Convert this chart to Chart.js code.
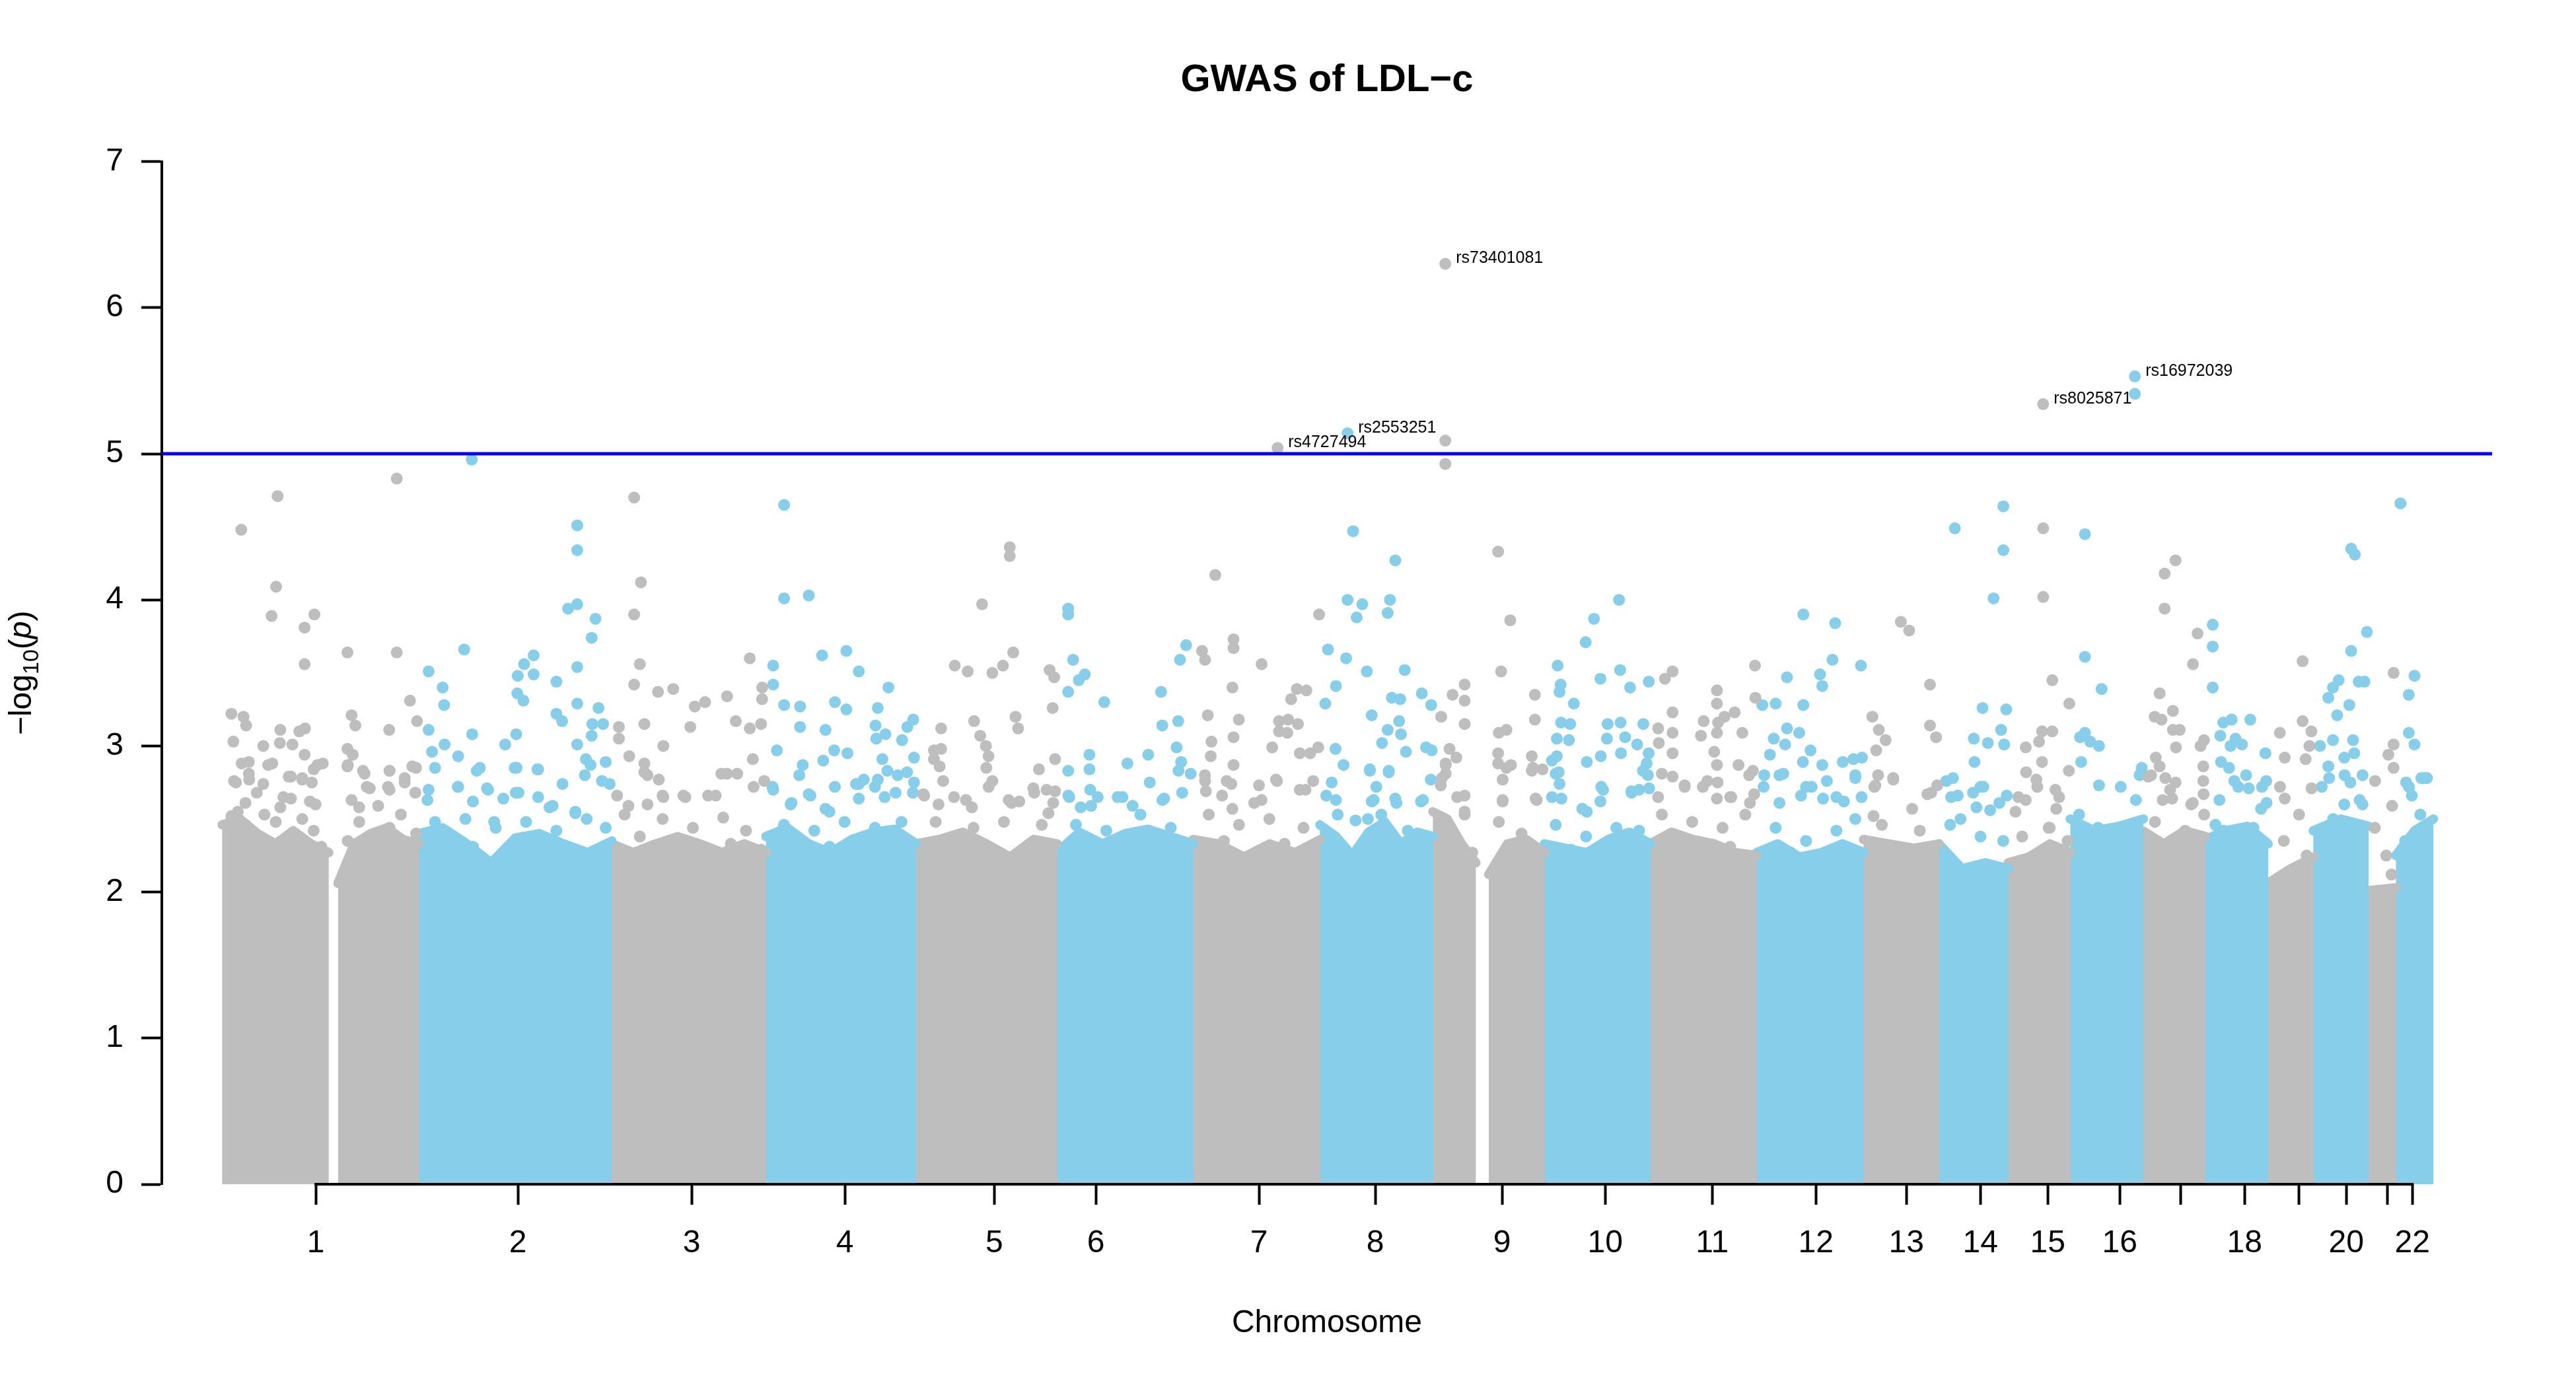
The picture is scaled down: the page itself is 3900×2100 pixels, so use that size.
<!DOCTYPE html>
<html>
<head>
<meta charset="utf-8">
<title>GWAS of LDL-c</title>
<script src="https://cdn.jsdelivr.net/npm/chart.js@4.4.1/dist/chart.umd.min.js"></script>
<style>
  html, body { margin: 0; padding: 0; background: #fff; }
  #wrap { width: 3900px; height: 2100px; }
</style>
</head>
<body>
<div id="wrap"><canvas id="manhattan" width="3900" height="2100"></canvas></div>
<script>
const FONT = '"Liberation Sans", Arial, Helvetica, sans-serif';
const GREY = '#BEBEBE';
const SKYBLUE = '#87CEEB';

// cumulative genome position (Mb) where each chromosome ends
const chromEnd = [248, 491, 686, 875, 1053, 1225, 1385, 1527.5, 1668.3, 1801.7, 1935.8,
                  2070.8, 2165.8, 2253.3, 2331.7, 2423.3, 2501.7, 2580.8, 2638.3, 2707.5, 2742.5, 2790];
// axis ticks (median SNP position per chromosome) and their labels
const tickPos = [118.3, 373.3, 592.5, 785.8, 974.2, 1102.5, 1308.3, 1455, 1615, 1745, 1880,
                 2010.8, 2125, 2218.3, 2303.3, 2394.2, 2470.8, 2551.7, 2620, 2680, 2731.7, 2763.3];
const tickLabels = ['1','2','3','4','5','6','7','8','9','10','11','12','13','14','15','16','','18','','20','','22'];

// dense body of SNPs: segments and the height of their near-solid top
const bandStart = [0, 146.2, 248, 491, 686, 875, 1053, 1225, 1385, 1527.5, 1598, 1668.3, 1801.7,
                   1935.8, 2070.8, 2165.8, 2253.3, 2331.7, 2423.3, 2501.7, 2580.8, 2638.3, 2707.5, 2742.5];
const bandEnd   = [134.7, 248, 491, 686, 875, 1053, 1225, 1385, 1527.5, 1582, 1668.3, 1801.7, 1935.8,
                   2070.8, 2165.8, 2253.3, 2331.7, 2423.3, 2501.7, 2580.8, 2638.3, 2707.5, 2742.5, 2790];
const bandChrom = [1, 1, 2, 3, 4, 5, 6, 7, 8, 9, 9, 10, 11, 12, 13, 14, 15, 16, 17, 18, 19, 20, 21, 22];
const bandTop = [
  [2.46, 2.5, 2.4, 2.33, 2.42, 2.33, 2.27], [2.06, 2.33, 2.4, 2.44, 2.36, 2.33],
  [2.4, 2.44, 2.33, 2.2, 2.37, 2.4, 2.33, 2.27, 2.35], [2.33, 2.27, 2.33, 2.38, 2.33, 2.27, 2.33, 2.27],
  [2.38, 2.44, 2.33, 2.27, 2.36, 2.41, 2.43, 2.33], [2.33, 2.36, 2.41, 2.33, 2.24, 2.36, 2.33],
  [2.27, 2.41, 2.33, 2.4, 2.43, 2.38, 2.33], [2.36, 2.33, 2.24, 2.33, 2.27, 2.36],
  [2.46, 2.38, 2.25, 2.41, 2.48, 2.33, 2.41, 2.38], [2.55, 2.5, 2.33, 2.2], [2.12, 2.33, 2.36, 2.27],
  [2.33, 2.3, 2.27, 2.36, 2.41, 2.33], [2.33, 2.41, 2.36, 2.33, 2.27, 2.25],
  [2.27, 2.33, 2.24, 2.27, 2.33, 2.27], [2.36, 2.33, 2.3, 2.33], [2.33, 2.16, 2.2, 2.16],
  [2.2, 2.24, 2.33, 2.27], [2.5, 2.42, 2.45, 2.5], [2.42, 2.33, 2.42, 2.38],
  [2.36, 2.42, 2.45, 2.33], [2.06, 2.16, 2.24], [2.42, 2.5, 2.45], [2.01, 2.03], [2.25, 2.42, 2.5]
];

// sparse SNPs above the dense body: [position Mb, -log10(p)]
const snpHits = [
  // chr1
  [24.2,4.48],[70.1,4.71],[220.4,4.83],[68.2,4.09],[62.5,3.89],[116.5,3.90],[104.1,3.81],[104.1,3.56],
  [158.2,3.64],[220.4,3.64],[11.8,3.22],[27,3.20],[30.4,3.14],[14.2,3.03],[52,3.00],[73.5,3.11],[73,3.02],
  [88.8,3.01],[97.4,3.10],[104.6,3.12],[104.1,2.94],[33.8,2.89],[63.4,2.88],[33.8,2.81],[17.5,2.75],[84,2.79],
  [101.2,2.78],[113.2,2.75],[115.6,2.84],[127.1,2.88],[52,2.74],[29.5,2.61],[86.9,2.64],[118,2.60],[73.5,2.58],
  [163.4,3.21],[168.2,3.14],[158.2,2.98],[164.9,2.94],[158.2,2.86],[210.8,3.11],[237.1,3.31],[246,3.17],
  [179.7,2.81],[211.3,2.83],[186.4,2.71],[244.8,2.85],[230.4,2.75],[243.8,2.68],[209.4,2.72],[173,2.58],[11.8,2.52],
  // chr2
  [315,4.96],[448.1,4.51],[448.1,4.34],[305.5,3.66],[436.6,3.94],[448.1,3.97],[471.1,3.87],[466.3,3.74],
  [393.1,3.62],[381.1,3.56],[373,3.48],[393.1,3.49],[260.6,3.51],[278.3,3.40],[280.2,3.28],[372.5,3.36],
  [380.2,3.31],[421.8,3.44],[448.1,3.54],[448.1,3.29],[474.9,3.26],[421.8,3.22],[429,3.17],[467.2,3.15],
  [480.7,3.15],[466.3,3.07],[448.1,3.01],[260.6,3.11],[315.6,3.08],[280.7,3.01],[264.9,2.96],[297.9,2.93],
  [371.1,3.08],[357.2,3.01],[371.6,2.85],[398.8,2.84],[325.2,2.85],[429.5,2.74],[459.1,2.91],[484,2.89],
  [457.7,2.80],[260.6,2.70],[297.9,2.72],[334.2,2.71],[316.5,2.62],[398.8,2.65],[354.8,2.64],[370.6,2.68],
  [445.7,2.54],[489,2.74],[343.3,2.48],[413.2,2.58],
  // chr3
  [519.9,4.70],[528.5,4.12],[519.9,3.90],[527.1,3.56],[519.9,3.42],[500.7,3.13],[500.7,3.05],[513.7,2.93],
  [532.8,3.15],[550,3.37],[569.2,3.39],[556.7,3.00],[532.8,2.88],[532.8,2.82],[551,2.77],[590.7,3.13],
  [596.4,3.27],[609.4,3.30],[637.1,3.34],[648.1,3.17],[665.8,3.60],[665.8,3.12],[669.6,2.91],[629.9,2.81],
  [650,2.81],[556.7,2.65],[582.1,2.66],[622.8,2.66],[536.7,2.60],[512.7,2.59],[681.4,3.40],[681.4,3.32],
  [680,3.15],[684,2.76],
  // chr4
  [709.1,4.65],[709.1,4.01],[740.2,4.03],[695.3,3.55],[695.3,3.42],[757,3.62],[787.6,3.65],[803.4,3.51],
  [840.7,3.40],[709.1,3.28],[729.2,3.27],[729.2,3.13],[761.3,3.11],[773.2,3.30],[787.6,3.25],[827.3,3.26],
  [824.4,3.14],[836.9,3.08],[825.4,3.05],[864.6,3.13],[872,3.18],[857.9,3.04],[700,2.97],[772.3,2.97],
  [789,2.95],[758.4,2.90],[732.6,2.87],[833.1,2.91],[839.3,2.83],[873,2.92],[864.2,2.82],[728.3,2.80],
  [827.3,2.77],[695.3,2.70],[740.2,2.67],[773.2,2.72],[803.4,2.74],[809.6,2.77],[803.4,2.64],[849.8,2.68],
  [835.9,2.65],[873,2.75],[717.3,2.60],[761.3,2.57],
  // chr5
  [993.8,4.36],[993.8,4.30],[958.9,3.97],[924.4,3.55],[940.7,3.51],[971.8,3.50],[985.2,3.55],[998.1,3.64],
  [1044.1,3.52],[1049.8,3.47],[1047.9,3.26],[948.8,3.17],[1001,3.20],[1004.3,3.12],[907.2,3.12],[956.5,3.07],
  [963.7,3.00],[967,2.93],[898.1,2.97],[907.2,2.98],[898.1,2.91],[905.3,2.86],[964.2,2.85],[971.8,2.76],
  [1030.6,2.84],[1051,2.91],[1023.5,2.71],[1040.2,2.70],[1051,2.69],[884.7,2.67],[903.9,2.60],[923.5,2.65],
  [992.4,2.63],[1005.8,2.62],[1042.6,2.54],[946,2.58],
  // chr6
  [1067.5,3.94],[1067.5,3.90],[1073.7,3.59],[1080.9,3.45],[1088.5,3.49],[1067.5,3.37],[1113,3.30],
  [1216.3,3.69],[1208.6,3.59],[1184.7,3.37],[1186.2,3.14],[1206.3,3.17],[1204.3,2.99],[1168.5,2.94],
  [1142.2,2.88],[1094.3,2.94],[1094.3,2.84],[1067.5,2.83],[1210,2.89],[1206.7,2.83],[1222.1,2.81],
  [1170.4,2.75],[1095.3,2.70],[1104.8,2.65],[1068.9,2.65],[1136,2.65],[1188.6,2.64],[1083.3,2.58],[1148.8,2.59],
  // chr7
  [1331.7,5.04],[1253.1,4.17],[1384,3.90],[1276.1,3.73],[1276.1,3.67],[1236.4,3.65],[1240.2,3.59],
  [1311.5,3.56],[1274.7,3.40],[1243.6,3.21],[1282.8,3.18],[1248.3,3.03],[1276.1,3.06],[1247.4,2.93],
  [1276.1,2.87],[1356,3.39],[1368,3.38],[1348.8,3.32],[1333.5,3.17],[1345,3.18],[1357.4,3.15],[1333.5,3.10],
  [1344,3.09],[1324.9,2.99],[1359.8,2.95],[1372.8,2.95],[1383,2.99],[1240.2,2.76],[1267.5,2.76],[1308.2,2.73],
  [1329.7,2.77],[1376.6,2.76],[1241.2,2.69],[1261.7,2.66],[1311.5,2.63],[1367,2.70],[1274.7,2.57],
  // chr8
  [1420,5.14],[1427,4.47],[1420,4.00],[1480.2,4.27],[1438.6,3.97],[1431.4,3.88],[1473.5,4.00],[1470.6,3.91],
  [1395.3,3.66],[1418.2,3.60],[1405.3,3.41],[1391.9,3.29],[1404.8,2.98],[1414.9,2.87],[1400,2.75],[1405.3,2.63],
  [1444.3,3.51],[1492.1,3.52],[1475.9,3.33],[1486.4,3.32],[1513.7,3.36],[1450.5,3.21],[1525.5,3.28],[1485,3.17],
  [1470.6,3.11],[1487.4,3.08],[1463.4,3.02],[1493.6,2.96],[1519,2.99],[1526.1,2.97],[1448.1,2.84],[1472,2.82],
  [1456.3,2.72],[1525,2.77],[1450.5,2.62],[1480.2,2.64],[1512.7,2.62],[1430,2.49],[1445.7,2.50],
  // chr9
  [1543.3,6.30],[1543.3,5.09],[1543.3,4.93],[1609.9,4.33],[1625.2,3.86],[1613.7,3.51],[1567.7,3.42],
  [1552.4,3.35],[1567.7,3.31],[1538.1,3.20],[1567.7,3.15],[1656.3,3.35],[1656.3,3.18],[1610.8,3.09],
  [1620.4,3.11],[1548.6,2.98],[1557.2,2.92],[1609.9,2.95],[1609.9,2.88],[1626.1,2.87],[1652.4,2.93],
  [1652.4,2.83],[1666,2.84],[1543.8,2.88],[1543.8,2.81],[1615.6,2.77],[1537.6,2.73],[1615.6,2.62],
  [1657.2,2.64],[1567.7,2.66],[1567.7,2.55],
  // chr10
  [1762.5,4.00],[1730.9,3.87],[1720.4,3.71],[1685,3.55],[1688.8,3.42],[1687.4,3.37],[1705.5,3.29],[1739,3.46],
  [1763.9,3.52],[1776.4,3.40],[1800,3.44],[1689.3,3.16],[1700.8,3.15],[1684,3.05],[1699.3,3.04],[1748.1,3.15],
  [1764.4,3.16],[1793.1,3.15],[1747.2,3.05],[1770.2,3.06],[1785.4,3.01],[1764.9,2.95],[1739.5,2.93],
  [1721.8,2.89],[1684,2.93],[1677.8,2.90],[1686.4,2.82],[1687.4,2.74],[1799.8,2.95],[1797.4,2.88],
  [1798.9,2.80],[1742.4,2.70],[1778.2,2.69],[1787.8,2.70],[1800.5,2.71],[1677.8,2.65],[1689.8,2.64],
  [1739,2.62],[1721.8,2.55],
  // chr11
  [1830,3.51],[1820.4,3.46],[1886,3.38],[1886,3.29],[1934,3.55],[1934.5,3.33],[1830,3.23],[1887.4,3.16],
  [1895.5,3.20],[1908.4,3.23],[1869.2,3.17],[1886,3.09],[1865.8,3.07],[1918,3.09],[1811.8,3.12],[1830,3.09],
  [1812.7,3.02],[1830,2.95],[1882.6,2.96],[1886,2.87],[1913.2,2.87],[1931.4,2.83],[1830,2.79],[1886.9,2.75],
  [1886,2.64],[1904.1,2.65],[1845.3,2.73],[1868.2,2.72],[1933,2.67],[1927.6,2.61],[1811.8,2.65],
  // chr12
  [1995,3.90],[2035.2,3.84],[1974.4,3.47],[2016.1,3.49],[2018.9,3.41],[2031.8,3.59],[2067.7,3.55],
  [1943.3,3.28],[1960.1,3.29],[1995,3.28],[1974.4,3.12],[1989.8,3.09],[1957.7,3.05],[1972,3.01],
  [2004.1,2.97],[1952.9,2.94],[1994.5,2.89],[2018.9,2.87],[2044.8,2.89],[2058.2,2.91],[2069,2.92],
  [1964.9,2.80],[1944.8,2.72],[2024.7,2.76],[2060.6,2.78],[1992.1,2.66],[2005.5,2.72],[1964.9,2.61],
  [2019.9,2.64],[2046.2,2.62],[2068.5,2.65],
  // chr13
  [2118,3.85],[2128.5,3.79],[2154.8,3.42],[2082.1,3.20],[2090.2,3.11],[2098.8,3.04],[2086.9,2.97],
  [2154.8,3.14],[2162.5,3.06],[2089.3,2.80],[2108.4,2.77],[2085.9,2.73],[2151.5,2.67],[2083.5,2.52],[2164,2.73],
  // chr14
  [2247.4,4.64],[2186.2,4.49],[2247.4,4.34],[2235,4.01],[2221.1,3.26],[2251,3.25],[2244.5,3.11],[2210.1,3.05],
  [2227.8,3.02],[2248.4,3.01],[2211,2.89],[2183.8,2.78],[2181.4,2.65],[2209.1,2.68],[2222,2.72],[2251.7,2.66],
  [2193.3,2.50],[2213.4,2.58],[2230.7,2.56],
  // chr15
  [2297.5,5.34],[2297.6,4.49],[2297.6,4.02],[2309.1,3.45],[2330.5,3.29],[2296.2,3.10],[2309.1,3.10],
  [2292.4,3.03],[2275.6,2.99],[2296.2,2.89],[2276.1,2.82],[2289,2.77],[2330,2.83],[2313,2.70],[2317.7,2.65],
  [2275.6,2.63],[2262.7,2.55],[2305.8,2.44],
  // chr16
  [2413.3,5.53],[2413.3,5.41],[2350.3,4.45],[2350.3,3.61],[2371.3,3.39],[2344.1,3.06],[2350.3,3.09],
  [2357,3.03],[2368,3.00],[2345.5,2.89],[2368,2.73],[2422,2.85],[2419.2,2.80],
  // chr17
  [2464.6,4.27],[2450.8,4.18],[2450.8,3.94],[2492.4,3.77],[2486.6,3.56],[2439.7,2.92],[2444.5,3.36],
  [2438.3,3.20],[2461.3,3.24],[2446.9,3.18],[2461.3,3.11],[2469.9,3.11],[2465.1,2.99],[2444.5,2.86],
  [2451.7,2.78],[2464.6,2.75],[2430.2,2.79],[2499.6,2.86],[2500.5,3.04],[2496.2,3.00],[2499.6,2.76],
  [2500,2.67],[2448.4,2.63],[2460.3,2.64],[2484.3,2.60],
  // chr18
  [2511.5,3.83],[2511.5,3.68],[2511.5,3.40],[2524.9,3.16],[2535.4,3.18],[2558.9,3.18],[2521.1,3.07],
  [2540.2,3.05],[2534,3.00],[2548.4,3.01],[2522,2.89],[2532.1,2.85],[2538.8,2.76],[2553.6,2.80],[2557,2.71],
  [2573.7,2.72],[2579,2.76],[2579.5,2.61],[2514.9,2.46],[2578,2.95],
  // chr19
  [2596.2,3.09],[2624.9,3.58],[2624.9,3.17],[2635.9,3.10],[2602.4,2.92],[2628.7,2.91],[2633.5,3.00],
  [2602.4,2.64],[2636.1,2.71],
  // chr20
  [2686.2,4.35],[2690.9,4.31],[2706,3.78],[2686.2,3.65],[2670.4,3.45],[2663.2,3.40],[2657.4,3.33],
  [2683.8,3.28],[2668.5,3.21],[2695.7,3.44],[2702.9,3.44],[2663.2,3.04],[2646.9,3.00],[2688.6,3.04],
  [2690.1,2.95],[2677.5,2.92],[2657.4,2.86],[2700.5,2.80],[2685.2,2.75],[2658.4,2.78],[2677.5,2.60],[2700.5,2.60],
  // chr21
  [2739.7,3.50],[2739.7,3.01],[2733.1,2.94],[2739.7,2.85],[2716.3,2.76],[2737.8,2.59],
  // chr22
  [2748.4,4.66],[2766.1,3.48],[2758.9,3.35],[2758.9,3.09],[2766.1,3.01],[2755.5,2.75],[2762.7,2.66],
  [2774.7,2.78],[2781.8,2.78]
];

// SNPs on the ragged upper edge of the dense body
const fringeHits = [
  [24.7,2.88],[58.2,2.87],[120.4,2.87],[34.2,2.77],[15.1,2.76],[86.9,2.79],[101.2,2.77],[43.8,2.68],
  [77.3,2.65],[110.8,2.62],[19.9,2.55],[53.4,2.53],[101.2,2.50],[29.5,2.46],[67.7,2.48],[115.6,2.42],
  [10.3,2.38],[48.6,2.35],[86.9,2.36],[125.2,2.31],
  [158.6,2.87],[177.8,2.83],[211.3,2.83],[240,2.86],[182.6,2.72],[211.3,2.70],[230.4,2.78],[163.4,2.63],
  [196.9,2.59],[225.6,2.53],[173,2.48],[211.3,2.44],[244.8,2.40],[158.6,2.35],
  [268.7,2.85],[321.3,2.83],[369.2,2.85],[397.9,2.84],[464.9,2.87],[479.3,2.76],[259.1,2.63],[297.4,2.72],
  [335.7,2.70],[374,2.68],[417,2.59],[445.7,2.55],[268.7,2.48],[307,2.50],[345.3,2.44],[383.5,2.48],
  [421.8,2.42],[460.1,2.50],[484,2.44],[316.5,2.31],[374,2.29],[431.4,2.27],
  [498.4,2.66],[536.7,2.80],[555.8,2.66],[584.5,2.65],[613.2,2.66],[637.1,2.81],[670.6,2.72],[507.9,2.53],
  [555.8,2.50],[594.1,2.44],[632.3,2.51],[661,2.42],[527.1,2.38],[584.5,2.35],[641.9,2.33],[680.2,2.29],
  [694.5,2.72],[718.5,2.61],[742.4,2.66],[766.3,2.55],[799.8,2.74],[823.7,2.72],[852.4,2.80],[871.6,2.68],
  [708.9,2.46],[747.2,2.42],[785.4,2.48],[823.7,2.44],[857.2,2.48],[766.3,2.31],[833.3,2.29],
  [885.9,2.66],[909.8,2.76],[938.5,2.63],[967.2,2.72],[996,2.61],[1024.7,2.68],[1048.6,2.61],[900.3,2.48],
  [948.1,2.44],[986.4,2.48],[1034.2,2.46],[919.4,2.33],[1015.1,2.31],
  [1067.7,2.66],[1096.4,2.59],[1129.9,2.65],[1158.6,2.53],[1186.4,2.63],[1211.3,2.68],[1077.3,2.46],
  [1115.6,2.42],[1149.1,2.40],[1196.9,2.44],[1101.2,2.31],[1168.2,2.29],
  [1240,2.80],[1273.4,2.74],[1302.2,2.61],[1330.9,2.76],[1359.6,2.70],[1244.8,2.53],[1283,2.46],
  [1321.3,2.50],[1364.4,2.44],[1264,2.35],[1340.5,2.33],
  [1393.1,2.66],[1407.5,2.53],[1397.9,2.38],[1448.1,2.83],[1472,2.83],[1452.9,2.63],[1481.6,2.61],
  [1515.1,2.63],[1462.5,2.53],[1496,2.42],[1443.3,2.35],[1510.3,2.29],
  [1543.8,2.87],[1558.2,2.65],[1539,2.78],[1567.7,2.53],[1577.3,2.27],[1620.4,2.85],[1653.9,2.85],
  [1615.6,2.63],[1658.6,2.63],[1610.8,2.48],[1639.5,2.40],
  [1682.6,2.81],[1716.1,2.57],[1740,2.72],[1778.3,2.68],[1792.6,2.83],[1682.6,2.46],[1720.9,2.38],
  [1759.1,2.44],[1787.8,2.42],[1701.7,2.29],
  [1816.5,2.81],[1845.3,2.72],[1874,2.76],[1902.7,2.65],[1926.6,2.80],[1816.5,2.53],[1854.8,2.48],
  [1893.1,2.44],[1921.8,2.53],[1835.7,2.35],[1902.7,2.31],
  [1945.7,2.80],[1969.7,2.81],[1998.4,2.72],[2036.7,2.65],[2060.6,2.80],[1960.1,2.44],[1998.4,2.35],
  [2036.7,2.42],[2060.6,2.50],[1979.2,2.27],
  [2084.5,2.72],[2108.4,2.78],[2132.3,2.57],[2156.3,2.68],[2094.1,2.46],[2141.9,2.42],[2113.2,2.31],
  [2175.4,2.76],[2189.8,2.66],[2218.5,2.72],[2242.4,2.61],[2180.2,2.46],[2218.5,2.38],[2247.2,2.35],
  [2266.3,2.65],[2290.2,2.72],[2314.1,2.57],[2271.1,2.38],[2304.6,2.44],[2328.5,2.35],
  [2342.9,2.53],[2366.8,2.44],[2395.5,2.72],[2414.6,2.63],[2400.3,2.38],
  [2433.8,2.80],[2457.7,2.70],[2486.4,2.61],[2438.6,2.48],[2476.8,2.42],[2500.7,2.53],
  [2520,2.63],[2543.8,2.72],[2572.5,2.57],[2524.8,2.42],[2562.9,2.44],
  [2596.4,2.72],[2620.4,2.53],[2601.2,2.35],[2630,2.25],
  [2649.1,2.72],[2677.8,2.80],[2696.9,2.63],[2663.4,2.50],
  [2716,2.44],[2730.4,2.25],[2737.1,2.12],
  [2759.1,2.72],[2773.4,2.53],[2754.3,2.35],[2778.2,2.78]
];

// annotated top SNPs
const leadSnp  = ['rs4727494', 'rs2553251', 'rs73401081', 'rs8025871', 'rs16972039'];
const leadPos  = [1331.7, 1420, 1543.3, 2297.5, 2413.3];
const leadLogp = [5.04, 5.14, 6.30, 5.34, 5.53];

const suggestive = 5;
const xRange = [-76, 2864];

function chromColor(pos) {
    let i = chromEnd.findIndex(e => pos <= e);
    if (i < 0) i = chromEnd.length - 1;
    return i % 2 === 0 ? GREY : SKYBLUE;
}

const bandSets = bandStart.map((s, i) => {
    const tops = bandTop[i];
    // where two bands touch, let this one overlap the next by about a pixel to hide the seam
    const end = bandEnd[i] + (bandStart[i + 1] === bandEnd[i] ? 0.8 : 0);
    const step = (end - s) / (tops.length - 1);
    const col = bandChrom[i] % 2 === 1 ? GREY : SKYBLUE;
    return {
        type: 'line',
        data: tops.map((v, k) => ({x: s + step * k, y: v})),
        borderColor: col,
        backgroundColor: col,
        borderWidth: 14,
        borderJoinStyle: 'round',
        borderCapStyle: 'round',
        pointRadius: 0,
        fill: 'origin',
        tension: 0,
        order: 3
    };
});

const allHits = snpHits.concat(fringeHits);
const greyPts = allHits.filter(p => chromColor(p[0]) === GREY).map(p => ({x: p[0], y: p[1]}));
const bluePts = allHits.filter(p => chromColor(p[0]) === SKYBLUE).map(p => ({x: p[0], y: p[1]}));

const decor = {
    id: 'decor',
    afterDatasetsDraw(chart) {
        const {ctx, scales: {x, y}} = chart;
        ctx.save();
        ctx.fillStyle = '#000';
        ctx.font = `25px ${FONT}`;
        ctx.textAlign = 'left';
        ctx.textBaseline = 'middle';
        leadSnp.forEach((name, i) => {
            ctx.fillText(name, x.getPixelForValue(leadPos[i]) + 16, y.getPixelForValue(leadLogp[i]) - 8);
        });
        ctx.restore();
    },
    afterDraw(chart) {
        const {ctx, chartArea, scales: {x}} = chart;
        ctx.save();
        // x axis line spans first to last tick, as in base R
        ctx.strokeStyle = '#000';
        ctx.lineWidth = 4;
        ctx.beginPath();
        ctx.moveTo(x.getPixelForValue(tickPos[0]) - 2, chartArea.bottom);
        ctx.lineTo(x.getPixelForValue(tickPos[tickPos.length - 1]) + 2, chartArea.bottom);
        ctx.stroke();

        // y axis title: -log10(p)
        const cy = (chartArea.top + chartArea.bottom) / 2;
        ctx.translate(30, cy);
        ctx.rotate(-Math.PI / 2);
        ctx.fillStyle = '#000';
        ctx.textBaseline = 'alphabetic';
        const parts = [
            {t: '\u2212log', font: `48px ${FONT}`, dy: 0},
            {t: '10', font: `34px ${FONT}`, dy: 11},
            {t: '(', font: `48px ${FONT}`, dy: 0},
            {t: 'p', font: `italic 48px ${FONT}`, dy: 0},
            {t: ')', font: `48px ${FONT}`, dy: 0}
        ];
        let total = 0;
        parts.forEach(p => { ctx.font = p.font; p.w = ctx.measureText(p.t).width; total += p.w; });
        let px = -total / 2;
        parts.forEach(p => { ctx.font = p.font; ctx.fillText(p.t, px, 17 + p.dy); px += p.w; });
        ctx.restore();
    }
};

new Chart(document.getElementById('manhattan'), {
    type: 'scatter',
    data: {
        datasets: [
            {
                type: 'line',
                data: [{x: xRange[0], y: suggestive}, {x: xRange[1], y: suggestive}],
                borderColor: '#0000FF',
                borderWidth: 5,
                pointRadius: 0,
                fill: false,
                order: 1
            },
            {data: greyPts, backgroundColor: GREY, borderWidth: 0, pointRadius: 9, order: 2},
            {data: bluePts, backgroundColor: SKYBLUE, borderWidth: 0, pointRadius: 9, order: 2},
            ...bandSets
        ]
    },
    options: {
        responsive: false,
        animation: false,
        devicePixelRatio: 1,
        events: [],
        layout: {padding: {left: 0, right: 127, top: 0, bottom: 0}},
        plugins: {
            legend: {display: false},
            tooltip: {enabled: false},
            title: {
                display: true,
                text: 'GWAS of LDL\u2212c',
                fullSize: false,
                color: '#000',
                font: {family: FONT, size: 58, weight: 'bold', lineHeight: 1.2},
                padding: {top: 87, bottom: 88}
            }
        },
        scales: {
            x: {
                type: 'linear',
                min: xRange[0],
                max: xRange[1],
                afterBuildTicks: s => { s.ticks = tickPos.map(v => ({value: v})); },
                afterFit: s => { s.height = 307; },
                ticks: {
                    autoSkip: false,
                    maxRotation: 0,
                    minRotation: 0,
                    padding: 30,
                    color: '#000',
                    font: {family: FONT, size: 48},
                    callback: (v, i) => tickLabels[i]
                },
                grid: {drawOnChartArea: false, drawTicks: true, tickLength: 31, tickColor: '#000', tickWidth: 4},
                border: {display: false},
                title: {
                    display: true,
                    text: 'Chromosome',
                    color: '#000',
                    font: {family: FONT, size: 48},
                    padding: {top: 0, bottom: 67}
                }
            },
            y: {
                min: 0,
                max: 7,
                afterFit: s => { s.width = 245; },
                ticks: {
                    stepSize: 1,
                    padding: 27,
                    color: '#000',
                    font: {family: FONT, size: 48}
                },
                grid: {drawOnChartArea: false, drawTicks: true, tickLength: 31, tickColor: '#000', tickWidth: 4},
                border: {display: true, color: '#000', width: 4}
            }
        }
    },
    plugins: [decor]
});
</script>
</body>
</html>
